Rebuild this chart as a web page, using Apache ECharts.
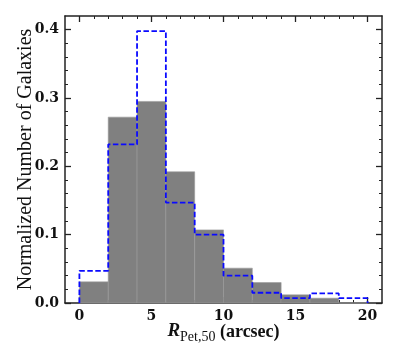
<!DOCTYPE html>
<html>
<head>
<meta charset="utf-8">
<script src="https://cdn.jsdelivr.net/npm/echarts@6/dist/echarts.min.js"></script>
<style>
  html, body { margin: 0; padding: 0; background: #fff; }
  #chart { width: 399px; height: 363px; }
</style>
</head>
<body>
<div id="chart"></div>
<script>
// bin edges of the histogram (arcsec)
const binEdges = [0, 2, 4, 6, 8, 10, 12, 14, 16, 18, 20]
// grey filled histogram
const greyValues = [0.031, 0.272, 0.295, 0.192, 0.107, 0.051, 0.030, 0.012, 0.007, 0.0]
// blue dashed histogram
const blueValues = [0.047, 0.232, 0.398, 0.147, 0.100, 0.040, 0.015, 0.007, 0.014, 0.007]

const xMajor = [0, 5, 10, 15, 20]
const xMinor = [1, 2, 3, 4, 6, 7, 8, 9, 11, 12, 13, 14, 16, 17, 18, 19]
const yMajor = [0, 0.1, 0.2, 0.3, 0.4]
const yMinor = [0.02, 0.04, 0.06, 0.08, 0.12, 0.14, 0.16, 0.18, 0.22, 0.24, 0.26, 0.28, 0.32, 0.34, 0.36, 0.38]

const frameColor = '#222'
const labelFont = 'DejaVu Serif'
const titleFont = 'Liberation Serif'

// step outline: start at (0,0), climb to first value, end back at (20,0)
function stepPoints(values) {
    const pts = [[binEdges[0], 0]]
    values.forEach((v, i) => pts.push([binEdges[i], v]))
    pts.push([binEdges[binEdges.length - 1], 0])
    return pts
}

/**
 * one axis of the frame
 * @param dim 'x' | 'y'
 * @param position
 * @param major whether this axis carries the long ticks (and line)
 * @param labels whether labels are shown
 */
function frameAxis(dim, position, major, labels) {
    const ticks = dim === 'x' ? (major ? xMajor : xMinor) : (major ? yMajor : yMinor)
    return {
        type: 'value',
        position: position,
        min: dim === 'x' ? -1 : 0,
        max: dim === 'x' ? 21 : 0.42,
        splitLine: { show: false },
        axisLine: { show: major, onZero: false, lineStyle: { color: frameColor, width: 1.5 } },
        axisTick: {
            show: true,
            inside: true,
            length: major ? 6 : 3,
            customValues: ticks,
            lineStyle: { color: frameColor, width: major ? 1.3 : 1 }
        },
        axisLabel: {
            show: labels,
            customValues: ticks,
            margin: 6,
            fontFamily: labelFont,
            fontWeight: 'bold',
            fontSize: 14,
            color: '#111',
            formatter: v => dim === 'x' ? String(v) : v.toFixed(1)
        }
    }
}

const chart = echarts.init(document.getElementById('chart'))

const xMain = frameAxis('x', 'bottom', true, true)
xMain.name = '{r|R}{sub|Pet,50}{t| (arcsec)}'
xMain.nameLocation = 'middle'
xMain.nameGap = 21
xMain.nameMoveOverlap = false
xMain.nameTextStyle = {
    rich: {
        r: { fontFamily: titleFont, fontWeight: 'bold', fontStyle: 'italic', fontSize: 19, lineHeight: 20, padding: [0, 0, 3, 0], verticalAlign: 'bottom', color: '#111' },
        sub: { fontFamily: titleFont, fontSize: 14, lineHeight: 16, verticalAlign: 'bottom', color: '#111' },
        t: { fontFamily: titleFont, fontWeight: 'bold', fontSize: 18, lineHeight: 20, padding: [0, 0, 3, 0], verticalAlign: 'bottom', color: '#111' }
    }
}

const yMain = frameAxis('y', 'left', true, true)
yMain.name = 'Normalized Number of Galaxies'
yMain.nameLocation = 'middle'
yMain.nameGap = 29
yMain.nameMoveOverlap = false
yMain.nameTextStyle = { fontFamily: titleFont, fontSize: 20, color: '#111' }

chart.setOption({
    animation: false,
    grid: { left: 65, top: 16, width: 317, height: 287, containLabel: false, outerBoundsMode: 'none' },
    xAxis: [
        xMain,
        frameAxis('x', 'bottom', false, false),
        frameAxis('x', 'top', true, false),
        frameAxis('x', 'top', false, false)
    ],
    yAxis: [
        yMain,
        frameAxis('y', 'left', false, false),
        frameAxis('y', 'right', true, false),
        frameAxis('y', 'right', false, false)
    ],
    series: [
        {
            name: 'grey',
            type: 'custom',
            xAxisIndex: 0,
            yAxisIndex: 0,
            data: greyValues.map((v, i) => [binEdges[i], binEdges[i + 1], v]),
            renderItem: function (params, api) {
                const p0 = api.coord([api.value(0), 0])
                const p1 = api.coord([api.value(1), api.value(2)])
                return {
                    type: 'rect',
                    shape: { x: p0[0], y: p1[1], width: p1[0] - p0[0], height: p0[1] - p1[1] },
                    style: { fill: '#808080', stroke: '#9a9a9a', lineWidth: 0.6 }
                }
            },
            z: 1
        },
        {
            name: 'blue',
            type: 'line',
            xAxisIndex: 0,
            yAxisIndex: 0,
            step: 'end',
            symbol: 'none',
            data: stepPoints(blueValues),
            lineStyle: { color: '#0a0aff', width: 1.8, type: [5.5, 2.5] },
            z: 3
        }
    ]
})
</script>
</body>
</html>
